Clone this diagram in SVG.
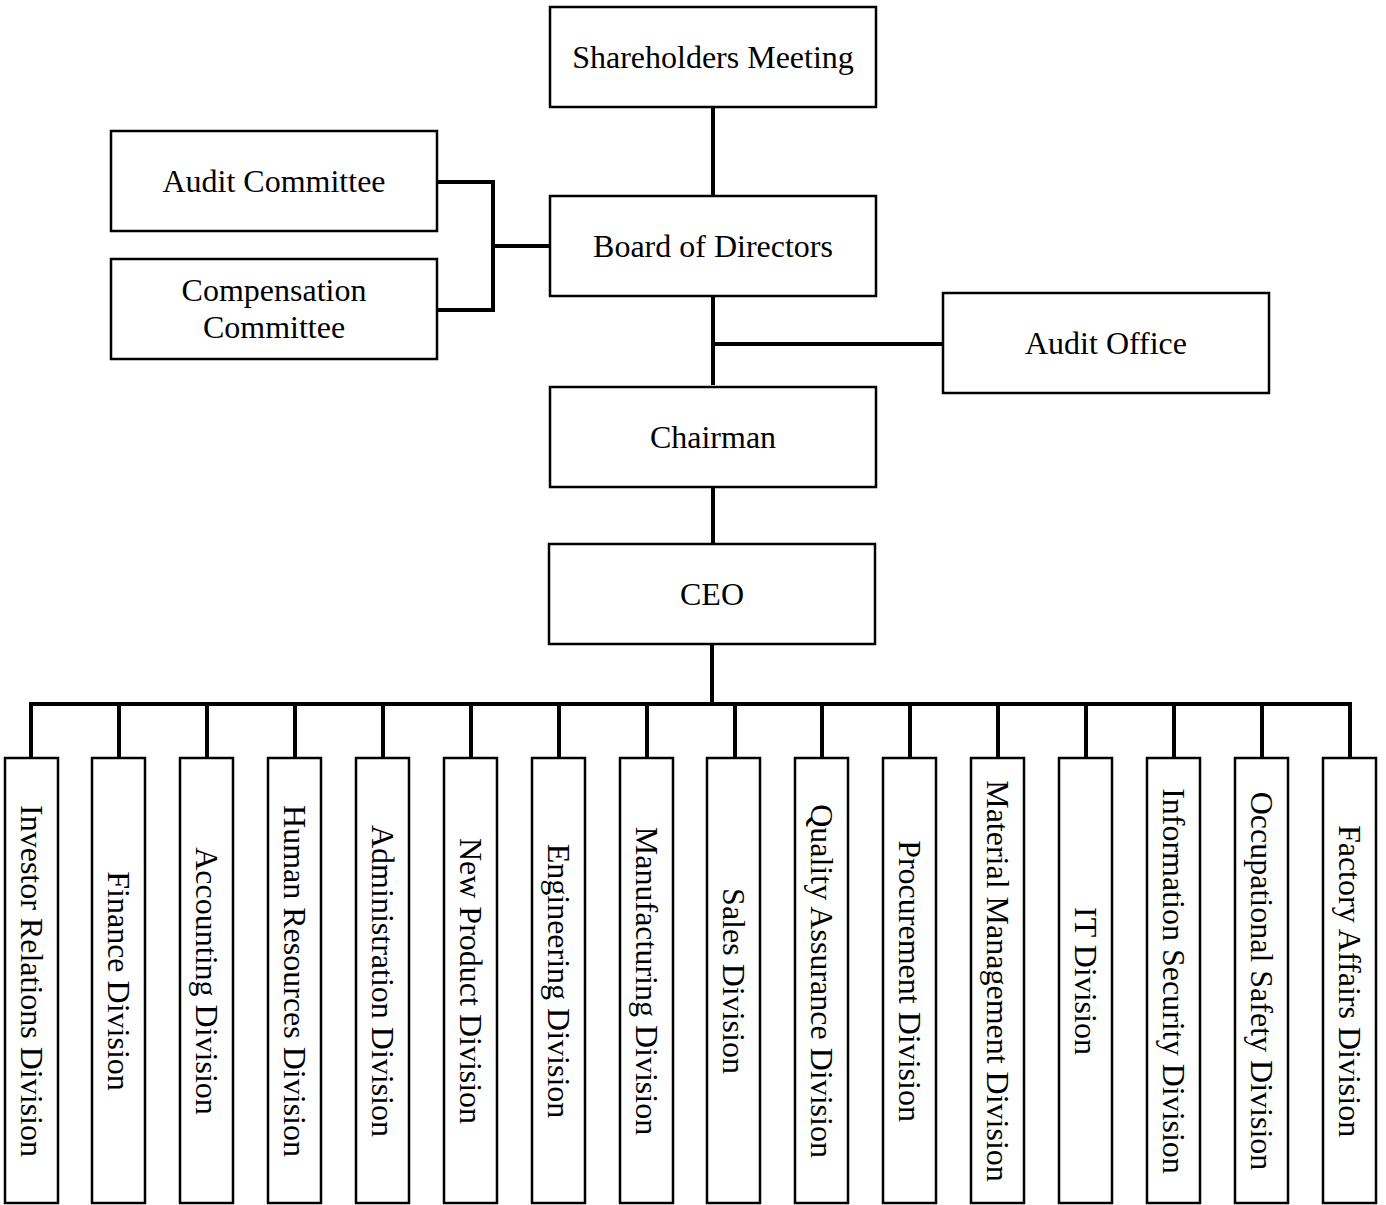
<svg xmlns="http://www.w3.org/2000/svg" width="1386" height="1205" viewBox="0 0 1386 1205">
<style>
.box{fill:#fff;stroke:#000;stroke-width:2.5}
.t{font-family:"Liberation Serif","Times New Roman",serif;font-size:32px;fill:#000;text-anchor:middle;dominant-baseline:central}
.c{stroke:#000;stroke-width:4;fill:none;stroke-linecap:square}
</style>
<rect width="1386" height="1205" fill="#fff"/>
<g id="connectors">
<line class="c" x1="713" y1="107" x2="713" y2="196"/>
<line class="c" x1="713" y1="297" x2="713" y2="383"/>
<line class="c" x1="713" y1="344" x2="942" y2="344"/>
<line class="c" x1="438" y1="182" x2="493" y2="182"/>
<line class="c" x1="438" y1="310" x2="493" y2="310"/>
<line class="c" x1="493" y1="182" x2="493" y2="310"/>
<line class="c" x1="493" y1="246" x2="549" y2="246"/>
<line class="c" x1="713" y1="487" x2="713" y2="543"/>
<line class="c" x1="712" y1="644" x2="712" y2="704"/>
<line class="c" x1="31" y1="704" x2="1350" y2="704"/>
<line class="c" x1="31" y1="704" x2="31" y2="758"/>
<line class="c" x1="119" y1="704" x2="119" y2="758"/>
<line class="c" x1="207" y1="704" x2="207" y2="758"/>
<line class="c" x1="295" y1="704" x2="295" y2="758"/>
<line class="c" x1="383" y1="704" x2="383" y2="758"/>
<line class="c" x1="471" y1="704" x2="471" y2="758"/>
<line class="c" x1="559" y1="704" x2="559" y2="758"/>
<line class="c" x1="647" y1="704" x2="647" y2="758"/>
<line class="c" x1="735" y1="704" x2="735" y2="758"/>
<line class="c" x1="822" y1="704" x2="822" y2="758"/>
<line class="c" x1="910" y1="704" x2="910" y2="758"/>
<line class="c" x1="998" y1="704" x2="998" y2="758"/>
<line class="c" x1="1086" y1="704" x2="1086" y2="758"/>
<line class="c" x1="1174" y1="704" x2="1174" y2="758"/>
<line class="c" x1="1262" y1="704" x2="1262" y2="758"/>
<line class="c" x1="1350" y1="704" x2="1350" y2="758"/>
</g>
<g id="shareholders"><rect class="box" x="550" y="7" width="326" height="100"/><text class="t" x="713" y="57">Shareholders Meeting</text></g>
<g id="board"><rect class="box" x="550" y="196" width="326" height="100"/><text class="t" x="713" y="246">Board of Directors</text></g>
<g id="audit-committee"><rect class="box" x="111" y="131" width="326" height="100"/><text class="t" x="274" y="181">Audit Committee</text></g>
<g id="compensation-committee"><rect class="box" x="111" y="259" width="326" height="100"/><text class="t" x="274" y="290">Compensation</text><text class="t" x="274" y="327">Committee</text></g>
<g id="audit-office"><rect class="box" x="943" y="293" width="326" height="100"/><text class="t" x="1106" y="343">Audit Office</text></g>
<g id="chairman"><rect class="box" x="550" y="387" width="326" height="100"/><text class="t" x="713" y="437">Chairman</text></g>
<g id="ceo"><rect class="box" x="549" y="544" width="326" height="100"/><text class="t" x="712" y="594">CEO</text></g>
<g id="div-investor"><rect class="box" x="5" y="758" width="53" height="445"/><text class="t" transform="translate(31.5 981) rotate(90)">Investor Relations Division</text></g>
<g id="div-finance"><rect class="box" x="92" y="758" width="53" height="445"/><text class="t" transform="translate(118.5 981) rotate(90)">Finance Division</text></g>
<g id="div-accounting"><rect class="box" x="180" y="758" width="53" height="445"/><text class="t" transform="translate(206.5 981) rotate(90)">Accounting Division</text></g>
<g id="div-hr"><rect class="box" x="268" y="758" width="53" height="445"/><text class="t" transform="translate(294.5 981) rotate(90)">Human Resources Division</text></g>
<g id="div-admin"><rect class="box" x="356" y="758" width="53" height="445"/><text class="t" transform="translate(382.5 981) rotate(90)">Administration Division</text></g>
<g id="div-newproduct"><rect class="box" x="444" y="758" width="53" height="445"/><text class="t" transform="translate(470.5 981) rotate(90)">New Product Division</text></g>
<g id="div-engineering"><rect class="box" x="532" y="758" width="53" height="445"/><text class="t" transform="translate(558.5 981) rotate(90)">Engineering Division</text></g>
<g id="div-manufacturing"><rect class="box" x="620" y="758" width="53" height="445"/><text class="t" transform="translate(646.5 981) rotate(90)">Manufacturing Division</text></g>
<g id="div-sales"><rect class="box" x="707" y="758" width="53" height="445"/><text class="t" transform="translate(733.5 981) rotate(90)">Sales Division</text></g>
<g id="div-qa"><rect class="box" x="795" y="758" width="53" height="445"/><text class="t" transform="translate(821.5 981) rotate(90)">Quality Assurance Division</text></g>
<g id="div-procurement"><rect class="box" x="883" y="758" width="53" height="445"/><text class="t" transform="translate(909.5 981) rotate(90)">Procurement Division</text></g>
<g id="div-material"><rect class="box" x="971" y="758" width="53" height="445"/><text class="t" transform="translate(997.5 981) rotate(90)">Material Management Division</text></g>
<g id="div-it"><rect class="box" x="1059" y="758" width="53" height="445"/><text class="t" transform="translate(1085.5 981) rotate(90)">IT Division</text></g>
<g id="div-infosec"><rect class="box" x="1147" y="758" width="53" height="445"/><text class="t" transform="translate(1173.5 981) rotate(90)">Information Security Division</text></g>
<g id="div-safety"><rect class="box" x="1235" y="758" width="53" height="445"/><text class="t" transform="translate(1261.5 981) rotate(90)">Occupational Safety Division</text></g>
<g id="div-factory"><rect class="box" x="1323" y="758" width="53" height="445"/><text class="t" transform="translate(1349.5 981) rotate(90)">Factory Affairs Division</text></g>
</svg>
